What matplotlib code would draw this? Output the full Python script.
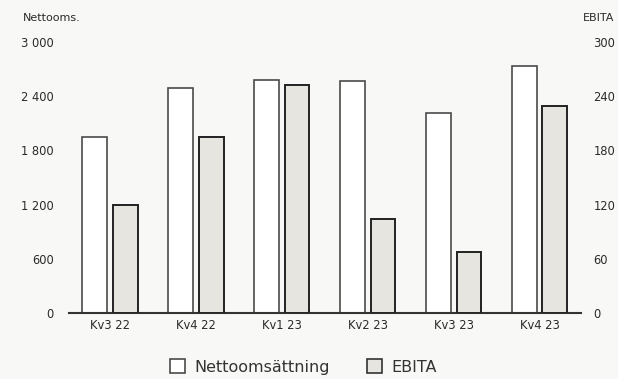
import numpy as np
import matplotlib.pyplot as plt
from matplotlib.patches import Patch

kvartal = ["Kv3 22", "Kv4 22", "Kv1 23", "Kv2 23", "Kv3 23", "Kv4 23"]
nettooms = [1950, 2490, 2580, 2570, 2215, 2735]
ebita = [120, 195, 252, 104, 68, 229]

bg = "#f8f8f6"
plt.rcParams["font.family"] = ["DejaVu Sans"]

fig = plt.figure(figsize=(6.18, 3.79), dpi=100, facecolor=bg)
ax = fig.add_axes([0.1117, 0.174, 0.8283, 0.715], facecolor=bg)
ax2 = ax.twinx()

x = np.arange(len(kvartal))
w = 0.29
ax.bar(x - 0.18, nettooms, w, color="white", edgecolor="#4a4a4a", linewidth=1.2, zorder=3)
ax2.bar(x + 0.175, ebita, w, color="#e6e5e0", edgecolor="#222222", linewidth=1.4, zorder=3)

ax.set_xlim(-0.477, 5.477)
ax.set_ylim(0, 3000)
ax2.set_ylim(0, 300)
ax.set_yticks(range(0, 3001, 600))
ax.set_yticklabels([f"{v:,}".replace(",", " ") for v in range(0, 3001, 600)])
ax2.set_yticks(range(0, 301, 60))
ax.set_xticks(x)
ax.set_xticklabels(kvartal)

for a in (ax, ax2):
    for s in a.spines.values():
        s.set_visible(False)
    a.tick_params(length=0, labelsize=8.3, colors="#2a2a2a")
ax.spines["bottom"].set_visible(True)
ax.spines["bottom"].set_color("#333333")
ax.spines["bottom"].set_linewidth(1.5)
ax.spines["bottom"].set_zorder(5)
ax.tick_params(axis="y", pad=11)
ax.tick_params(axis="x", pad=4.5)
ax2.tick_params(axis="y", pad=9)

fig.text(23 / 618, 1 - 18 / 379, "Nettooms.", fontsize=8, color="#2a2a2a", va="center", ha="left")
fig.text(614 / 618, 1 - 18 / 379, "EBITA", fontsize=8, color="#2a2a2a", va="center", ha="right")

handles = [Patch(facecolor="white", edgecolor="#4a4a4a", linewidth=1.2, label="Nettoomsättning"),
           Patch(facecolor="#e6e5e0", edgecolor="#333333", linewidth=1.2, label="EBITA")]
leg = fig.legend(handles=handles, loc="center", bbox_to_anchor=(0.491, 1 - 367 / 379), ncol=2,
                 frameon=False, fontsize=11.5, handlelength=0.95, handleheight=0.95,
                 columnspacing=2.3, handletextpad=0.6)
for t in leg.get_texts():
    t.set_color("#333333")

fig.savefig("out.png", dpi=100, facecolor=bg)
